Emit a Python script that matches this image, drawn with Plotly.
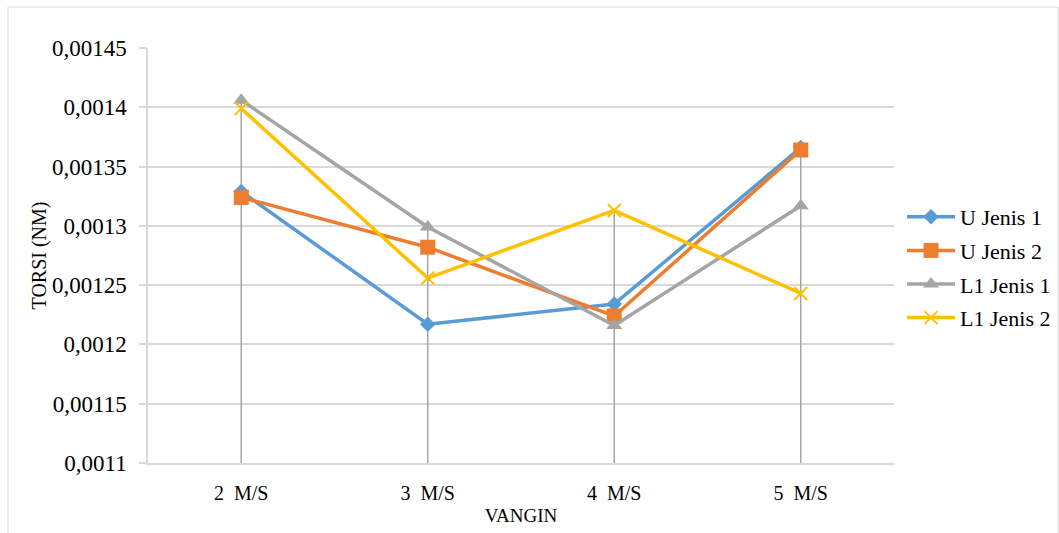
import plotly.graph_objects as go

categories = ["2  M/S", "3  M/S", "4  M/S", "5  M/S"]
u_jenis_1 = [0.001329, 0.001217, 0.001234, 0.001366]
u_jenis_2 = [0.001324, 0.001282, 0.001224, 0.001364]
l1_jenis_1 = [0.001406, 0.001299, 0.001216, 0.001317]
l1_jenis_2 = [0.001399, 0.001256, 0.001313, 0.001243]
y_tick_vals = [0.0011, 0.00115, 0.0012, 0.00125, 0.0013, 0.00135, 0.0014, 0.00145]
y_tick_text = ["0,0011", "0,00115", "0,0012", "0,00125", "0,0013", "0,00135", "0,0014", "0,00145"]
y_min, y_max = 0.0011, 0.00145

W, H = 1059, 533
L, R, T, B = 148, 165, 48, 70
pw, ph = W - L - R, H - T - B

fig = go.Figure()

# drop lines from the highest value at each category to the axis
dx, dy = [], []
for i, c in enumerate(categories):
    top = max(u_jenis_1[i], u_jenis_2[i], l1_jenis_1[i], l1_jenis_2[i])
    dx += [c, c, None]
    dy += [top, y_min, None]
fig.add_trace(go.Scatter(x=dx, y=dy, mode="lines", line=dict(color="#a5a5a5", width=1.5),
                         showlegend=False, hoverinfo="skip"))

series = [
    ("U Jenis 1", u_jenis_1, "#5b9bd5", dict(symbol="diamond", size=12)),
    ("U Jenis 2", u_jenis_2, "#ed7d31", dict(symbol="square", size=15)),
    ("L1 Jenis 1", l1_jenis_1, "#a5a5a5", dict(symbol="triangle-up", size=14)),
    ("L1 Jenis 2", l1_jenis_2, "#ffc000", dict(symbol="x-thin", size=13, line=dict(color="#ffc000", width=2))),
]
for name, vals, color, mk in series:
    fig.add_trace(go.Scatter(x=categories, y=vals, name=name, legendgroup=name,
                             mode="lines+markers",
                             line=dict(color=color, width=3.5),
                             marker=dict(color=color, **mk)))

font_family = "Times New Roman, Liberation Serif, serif"
fig.update_layout(
    width=W, height=H,
    margin=dict(l=L, r=R, t=T, b=B, autoexpand=False),
    paper_bgcolor="white", plot_bgcolor="white",
    font=dict(family=font_family, size=20, color="#000000"),
    separators=",.",
    showlegend=True,
    legend=dict(x=(902 - L) / pw, y=(T + ph - 196) / ph, xanchor="left", yanchor="top",
                font=dict(family=font_family, size=22, color="#000000"),
                bgcolor="rgba(0,0,0,0)", itemwidth=48,
                traceorder="grouped", tracegroupgap=2),
    xaxis=dict(type="category", range=[-0.5, 3.5], showgrid=False,
               showline=True, linecolor="#d9d9d9", linewidth=1.5,
               ticks="", tickfont=dict(family=font_family, size=20), ticklabelstandoff=11,
               title=dict(text="VANGIN", font=dict(family=font_family, size=19), standoff=6)),
    yaxis=dict(range=[y_min, y_max], tickvals=y_tick_vals, ticktext=y_tick_text,
               showgrid=True, gridcolor="#d9d9d9", gridwidth=1.5,
               showline=True, linecolor="#d9d9d9", linewidth=1.5,
               ticks="outside", ticklen=7, tickcolor="#d9d9d9", tickwidth=1.5,
               tickfont=dict(family=font_family, size=23), zeroline=False, ticklabelstandoff=8,
               title=dict(text="TORSI (NM)", font=dict(family=font_family, size=20), standoff=0)),
)

fig.add_shape(type="rect", xref="paper", yref="paper",
              x0=(8 - L) / pw, x1=(1058 - L) / pw,
              y0=(T + ph - 540) / ph, y1=(T + ph - 7) / ph,
              line=dict(color="#d9d9d9", width=1), fillcolor="rgba(0,0,0,0)", layer="below")

fig.write_html("out.html")
